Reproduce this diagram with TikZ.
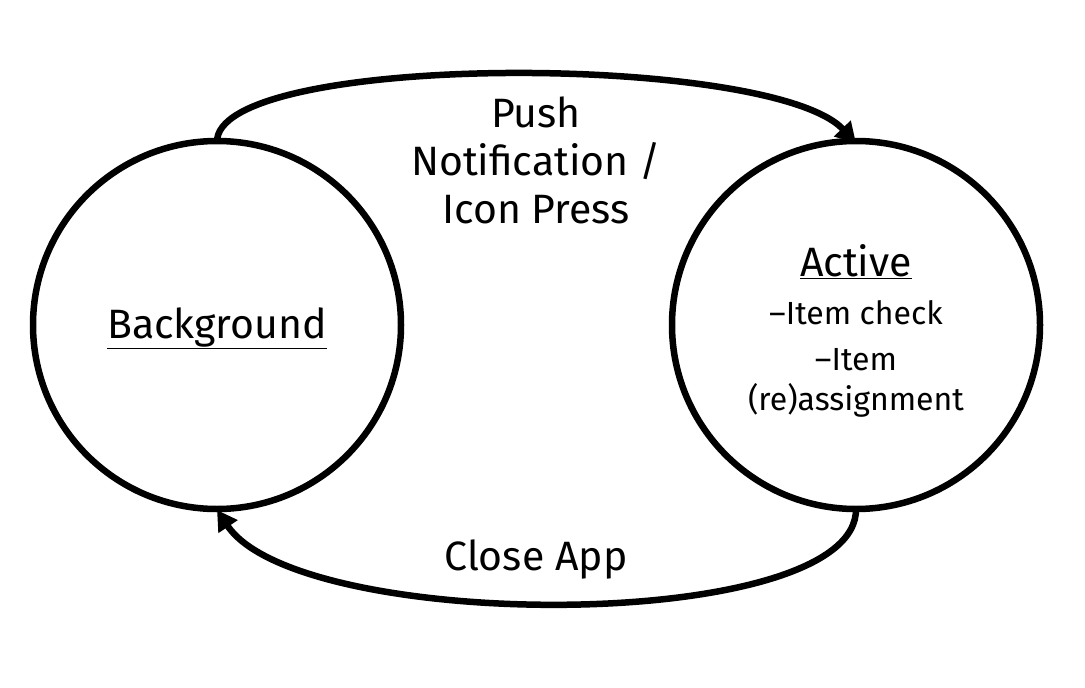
\documentclass[tikz,border=0pt]{standalone}
\usepackage{fontspec}
\setmainfont{Fira Sans}
\usetikzlibrary{arrows.meta}
\begin{document}
\begin{tikzpicture}[x=1pt,y=-1pt,
  state/.style={circle,draw,line width=6.5pt,minimum size=368pt,inner sep=0pt},
  trans/.style={line width=6.5pt,-{Triangle[length=20pt,width=22pt]}},
  lbl/.style={font=\fontsize{41}{48}\selectfont,align=center,inner sep=0pt},
  sub/.style={font=\fontsize{32}{40}\selectfont,align=center,inner sep=0pt}]
\useasboundingbox (0,0) rectangle (1085,688);
\node[state] (bg) at (217,325) {};
\node[state] (ac) at (856,325) {};
\node[lbl] (bgt) at (217,328) {\underline{Background}};
\node[lbl] (act) at (856,262) {\underline{Active}};
\node[sub] (a1) at (856,313) {–Item check};
\node[sub] (a2) at (856,383) {–Item\\(re)assignment};
\node[lbl] (push) at (536,160) {Push\\Notification /\\Icon Press};
\node[lbl] (close) at (536,559) {Close App};
\coordinate (s1) at (217,143);
\coordinate (e1) at (856,143);
\coordinate (s2) at (856,508);
\coordinate (e2) at (217,510);
\draw[trans] (s1) .. controls (212,52) and (770,52) .. (e1);
\draw[trans] (s2) .. controls (860,634) and (300,634) .. (e2);
\end{tikzpicture}
\end{document}
